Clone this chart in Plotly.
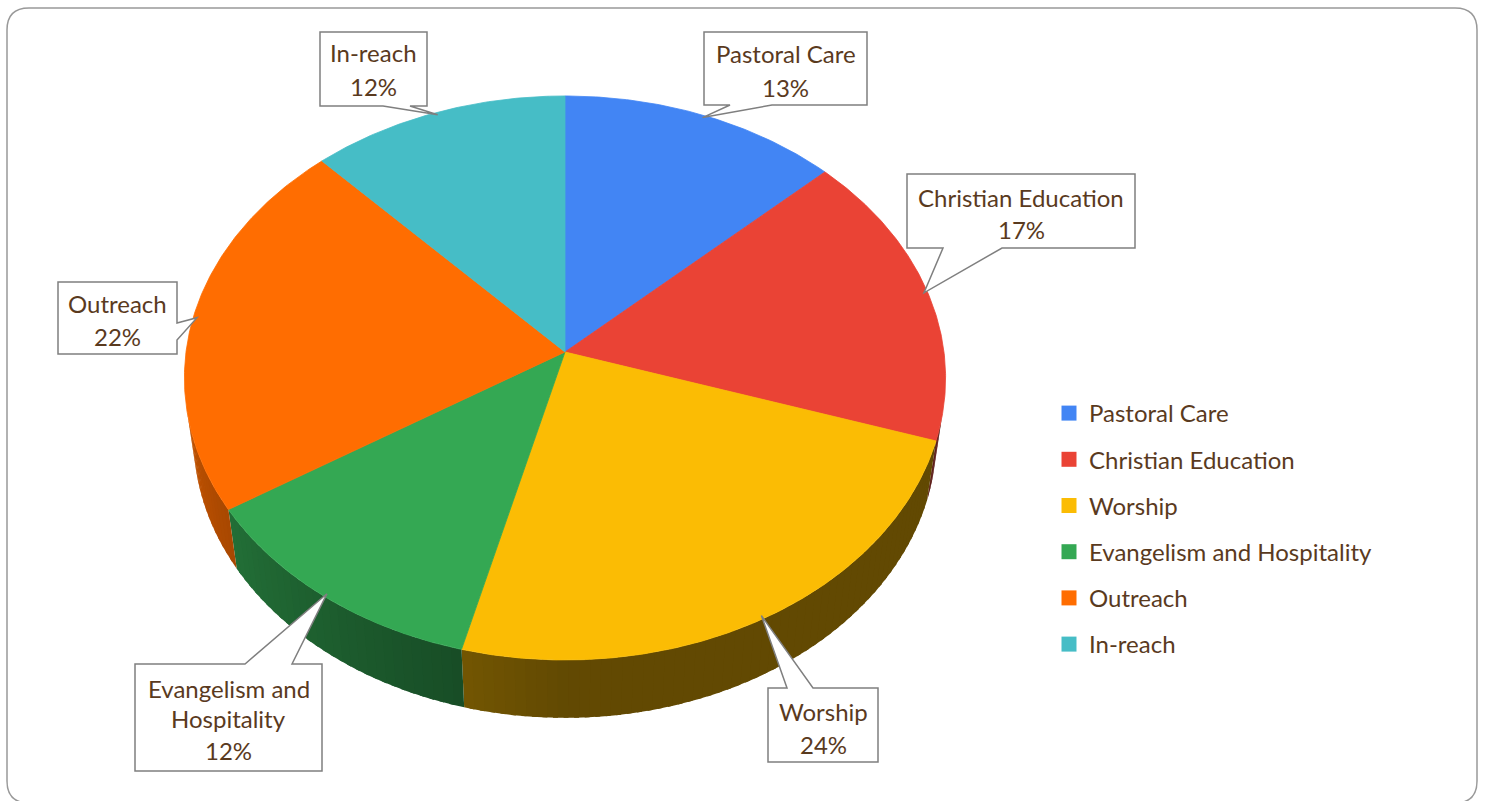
import numpy as np
import plotly.graph_objects as go

# ---------------- data ----------------
categories = ["Pastoral Care", "Christian Education", "Worship",
              "Evangelism and Hospitality", "Outreach", "In-reach"]
values = [13, 17, 24, 12, 22, 12]
slice_colors = ["#4285F4", "#EA4335", "#FBBC04", "#34A853", "#FF6D01", "#46BDC6"]

# ---------------- layout / projection constants ----------------
W, H = 1486, 801
CX, CY = 565, 352          # pie apex position (px)
PHI = np.arcsin(0.7378)    # camera elevation
DIST = 7.33                # camera distance (pie radius units)
FOC = 2778                 # focal scale (px)
THICK = 0.24               # pie thickness (radius units)
TEXT_COLOR = "#5a3a1e"
FONT = "Lato"
FSIZE = 24

S, C = np.sin(PHI), np.cos(PHI)


def proj(th_deg, r=1.0, z=0.0):
    t = np.radians(np.asarray(th_deg, dtype=float))
    x = r * np.sin(t)
    y = r * np.cos(t)
    depth = y * C + DIST - z * S
    v = y * S + z * C
    return CX + FOC * x / depth, CY - FOC * v / depth


def shade(hexcol, f):
    h = hexcol.lstrip("#")
    r, g, b = (int(h[i:i + 2], 16) for i in (0, 2, 4))
    return "rgb(%d,%d,%d)" % (round(r * f), round(g * f), round(b * f))


total = float(sum(values))
bounds = np.concatenate([[0.0], np.cumsum(values) / total * 360.0])

# silhouette angles of the cylinder side
alpha = np.degrees(np.arccos(1.0 / (DIST * C)))
vis0, vis1 = 180 - alpha, 180 + alpha

fig = go.Figure()

# ---------------- side walls ----------------
for i, col in enumerate(slice_colors):
    a0, a1 = max(bounds[i], vis0), min(bounds[i + 1], vis1)
    if a1 <= a0:
        continue
    n = max(1, int(np.ceil((a1 - a0) / 1.5)))
    ts = np.linspace(a0, a1, n + 1)
    for k in range(n):
        end = min(ts[k + 1] + 0.7, a1)
        tk = np.linspace(ts[k], end, 5)
        xt, yt = proj(tk)
        xb, yb = proj(tk[::-1], z=-THICK)
        mid = 0.5 * (ts[k] + ts[k + 1])
        f = 0.39 + 0.42 * max(0.0, mid - 180.0) / 90.0
        c = shade(col, f)
        fig.add_trace(go.Scatter(
            x=np.concatenate([xt, xb, xt[:1]]), y=np.concatenate([yt, yb, yt[:1]]),
            mode="lines", fill="toself", fillcolor=c,
            line=dict(color=c, width=0), hoverinfo="skip", showlegend=False))

# ---------------- top faces ----------------
for i, (cat, val, col) in enumerate(zip(categories, values, slice_colors)):
    ts = np.linspace(bounds[i], bounds[i + 1], max(4, int((bounds[i + 1] - bounds[i]) * 2)))
    xr, yr = proj(ts)
    fig.add_trace(go.Scatter(
        x=np.concatenate([[CX], xr, [CX]]), y=np.concatenate([[CY], yr, [CY]]),
        mode="lines", fill="toself", fillcolor=col, line=dict(color=col, width=0.8),
        name=cat, hoverinfo="name", showlegend=False))

# ---------------- legend entries ----------------
for cat, col in zip(categories, slice_colors):
    fig.add_trace(go.Scatter(
        x=[None], y=[None], mode="markers", name=cat, legendgroup=cat,
        marker=dict(symbol="square", size=15, color=col)))

# ---------------- callouts ----------------
# box (x0, y0, x1, y1), edge carrying the pointer, pointer base, text line y's
callouts = [
    ((704, 32, 867, 105), "bottom", (730, 772), (53, 87)),
    ((907, 174, 1135, 248), "bottom", (943, 1002), (197, 229)),
    ((768, 688, 878, 762), "top", (787, 813), (711, 744)),
    ((135, 664, 322, 771), "top", (245, 292), (688, 718, 750)),
    ((58, 282, 177, 354), "right", (323, 340), (303, 336)),
    ((320, 32, 427, 106), "bottom", (383, 410), (52, 86)),
]

shapes = []
annotations = []
for i, (box, edge, (pa, pb), ys) in enumerate(callouts):
    x0, y0, x1, y1 = box
    mid = 0.5 * (bounds[i] + bounds[i + 1])
    tx, ty = proj(mid, r=0.99)
    pts = [(x0, y0)]
    if edge == "top":
        pts += [(pa, y0), (tx, ty), (pb, y0)]
    pts += [(x1, y0)]
    if edge == "right":
        pts += [(x1, pa), (tx, ty), (x1, pb)]
    pts += [(x1, y1)]
    if edge == "bottom":
        pts += [(pb, y1), (tx, ty), (pa, y1)]
    pts += [(x0, y1)]
    path = "M " + " L ".join("%.1f,%.1f" % p for p in pts) + " Z"
    shapes.append(dict(type="path", path=path, xref="x", yref="y",
                       fillcolor="white", line=dict(color="#7f7f7f", width=1.5),
                       layer="above"))
    pct = "%d%%" % round(values[i] / total * 100)
    name = categories[i]
    if len(ys) == 3:
        words = name.split(" ")
        lines = [" ".join(words[:2]), " ".join(words[2:]), pct]
    else:
        lines = [name, pct]
    for txt, yy in zip(lines, ys):
        annotations.append(dict(x=0.5 * (x0 + x1), y=yy, xref="x", yref="y",
                                text=txt, showarrow=False, xanchor="center",
                                yanchor="middle",
                                font=dict(family=FONT, size=FSIZE, color=TEXT_COLOR)))

# frame (rounded rectangle)
fx0, fy0, fx1, fy1, rr = 7, 8, 1477, 803, 22
frame = ("M %d,%d L %d,%d Q %d,%d %d,%d L %d,%d Q %d,%d %d,%d L %d,%d Q %d,%d %d,%d "
         "L %d,%d Q %d,%d %d,%d Z") % (
    fx0 + rr, fy0, fx1 - rr, fy0, fx1, fy0, fx1, fy0 + rr, fx1, fy1 - rr, fx1, fy1,
    fx1 - rr, fy1, fx0 + rr, fy1, fx0, fy1, fx0, fy1 - rr, fx0, fy0 + rr, fx0, fy0,
    fx0 + rr, fy0)
shapes.insert(0, dict(type="path", path=frame, xref="x", yref="y",
                      line=dict(color="#999999", width=1.5), layer="below"))

fig.update_layout(
    width=W, height=H, margin=dict(l=0, r=0, t=0, b=0),
    paper_bgcolor="white", plot_bgcolor="white",
    xaxis=dict(range=[0, W], visible=False, fixedrange=True),
    yaxis=dict(range=[H, 0], visible=False, fixedrange=True),
    shapes=shapes, annotations=annotations,
    showlegend=True,
    legend=dict(x=1049 / W, y=1 - 391 / H, xanchor="left", yanchor="top",
                traceorder="grouped", tracegroupgap=12,
                font=dict(family=FONT, size=FSIZE, color=TEXT_COLOR),
                bgcolor="rgba(0,0,0,0)"),
)

fig.write_html("out.html", config={"displayModeBar": False},
               post_script="document.body.style.margin='0';")
